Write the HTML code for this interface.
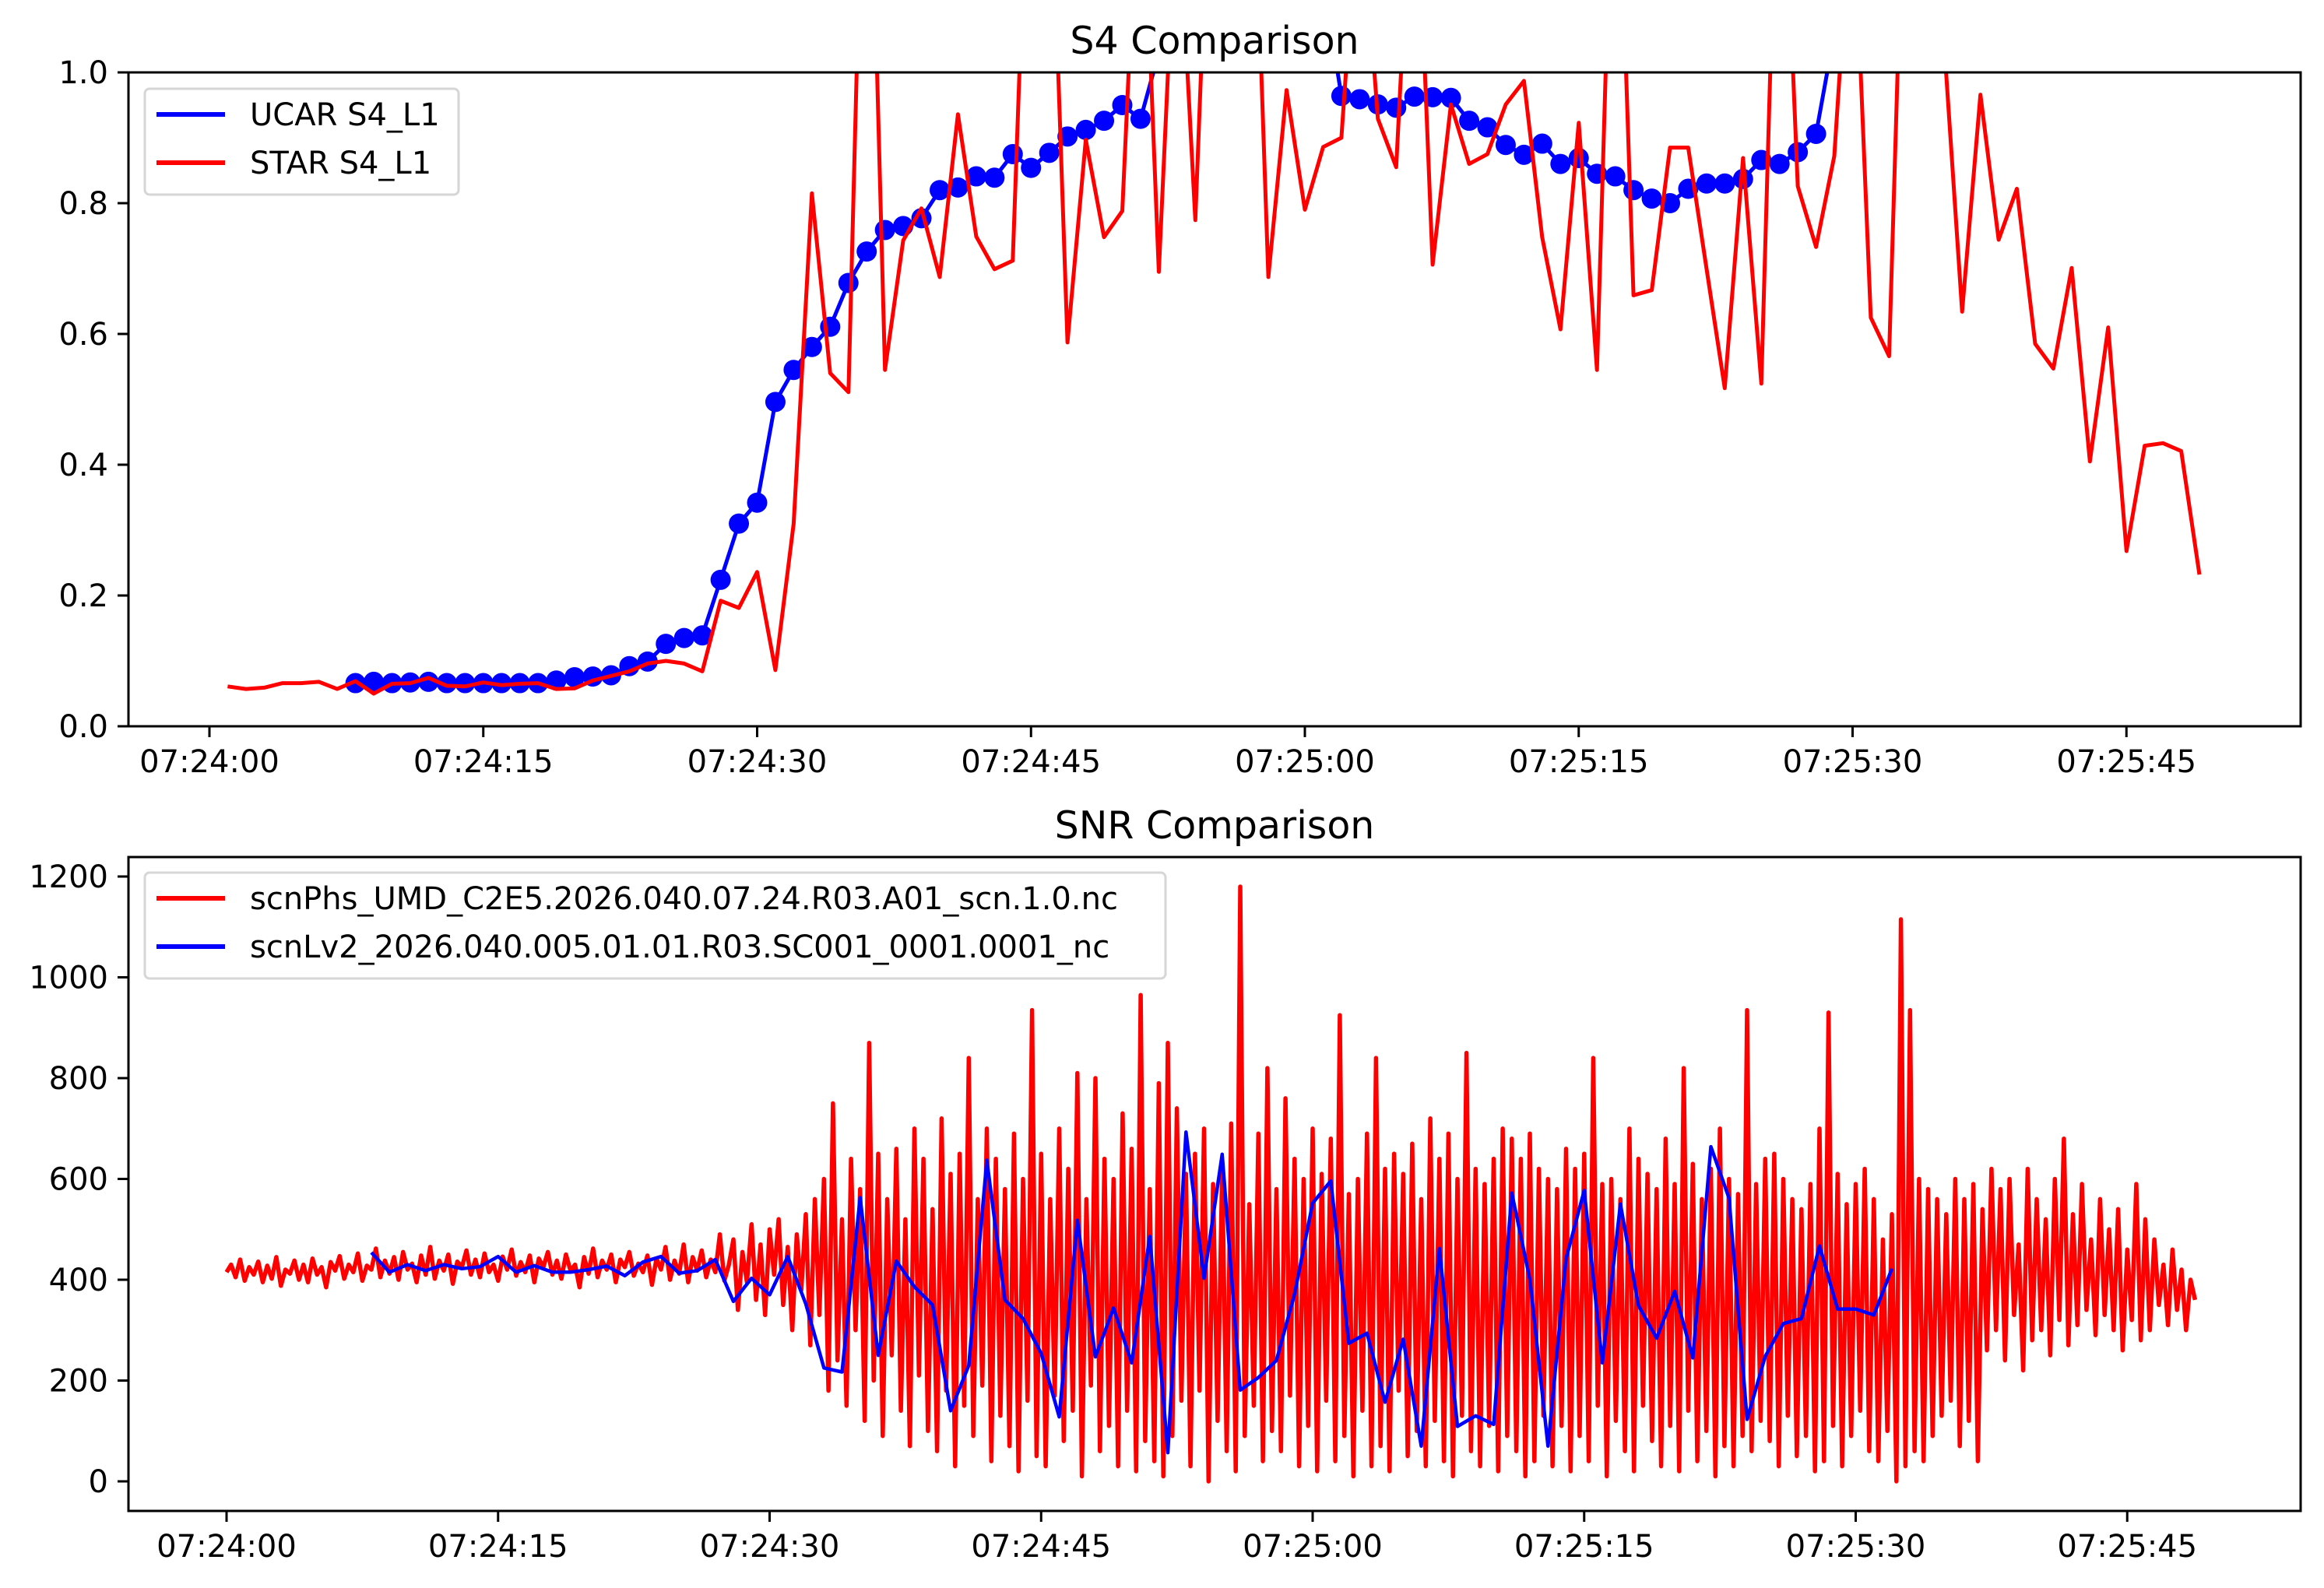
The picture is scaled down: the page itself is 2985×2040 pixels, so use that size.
<!DOCTYPE html>
<html><head><meta charset="utf-8"><style>
html,body{margin:0;padding:0;background:#fff;}
svg{display:block;font-family:"DejaVu Sans","Liberation Sans",sans-serif;}
</style></head>
<body>
<svg id="fig" width="2985" height="2040" viewBox="0 0 2985 2040" xmlns="http://www.w3.org/2000/svg">
<rect width="2985" height="2040" fill="#fff"/>
<defs>
<clipPath id="clipTop"><rect x="165" y="93" width="2790" height="840"/></clipPath>
<clipPath id="clipBot"><rect x="165" y="1101" width="2790" height="840"/></clipPath>
</defs>
<g id="top"></g>
<g id="bot"></g>
</svg>
<script>
// ---- S4 chart data ----
const s4XTickLabels = ["07:24:00","07:24:15","07:24:30","07:24:45","07:25:00","07:25:15","07:25:30","07:25:45"];
const s4XTickSeconds = [0,15,30,45,60,75,90,105];
const s4YTicks = [0.0,0.2,0.4,0.6,0.8,1.0];
const s4YTickLabels = ["0.0","0.2","0.4","0.6","0.8","1.0"];
const ucarStart = 8;
const ucarS4 = [0.066,0.068,0.066,0.067,0.068,0.066,0.066,0.066,0.066,0.066,0.066,0.07,0.075,0.076,0.078,0.092,0.099,0.126,0.135,0.139,0.224,0.31,0.342,0.496,0.545,0.58,0.611,0.678,0.726,0.759,0.765,0.777,0.82,0.824,0.841,0.839,0.875,0.854,0.877,0.902,0.912,0.926,0.95,0.929,
1.03,1.1,1.15,1.2,1.2,1.18,1.2,1.2,1.18,1.14,
0.964,0.959,0.951,0.946,0.963,0.962,0.961,0.926,0.916,0.889,0.874,0.891,0.86,0.869,0.845,0.841,0.82,0.807,0.8,0.822,0.83,0.83,0.837,0.866,0.86,0.878,0.906,
1.06,1.15,1.2,1.2];
const starStart = 1;
const starS4 = [0.061,0.057,0.059,0.066,0.066,0.068,0.057,0.069,0.05,0.065,0.066,0.074,0.062,0.061,0.067,0.063,0.065,0.066,0.057,0.058,0.07,0.077,0.084,0.096,0.1,0.096,0.084,0.192,0.181,0.236,0.086,0.31,0.815,0.54,0.511,1.6,0.545,0.743,0.792,0.687,0.936,0.749,0.699,0.712,1.5,1.4,0.587,0.897,0.748,0.788,1.4,0.695,1.3,0.774,1.5,1.6,1.5,0.687,0.973,0.79,0.886,0.9,1.3,0.929,0.855,1.4,0.706,0.951,0.86,0.875,0.951,0.987,0.748,0.607,0.923,0.545,1.5,0.659,0.667,0.885,0.885,0.70,0.517,0.869,0.524,1.5,0.826,0.733,0.872,1.3,0.625,0.566,1.5,1.5,1.05,0.634,0.966,0.744,0.822,0.585,0.547,0.701,0.405,0.61,0.268,0.429,0.433,0.421,0.232];

// ---- SNR chart data ----
const snrXTickLabels = ["07:24:00","07:24:15","07:24:30","07:24:45","07:25:00","07:25:15","07:25:30","07:25:45"];
const snrXTickSeconds = [0,15,30,45,60,75,90,105];
const snrYTicks = [0,200,400,600,800,1000,1200];
const snrStart = 0;
const snrStep = 0.25;
const scnPhsSNR = [
415,430,405,440,398,425,410,436,395,428,402,445,388,420,412,438,
400,430,395,442,410,425,385,435,418,447,402,430,415,452,398,428,
420,462,405,438,412,445,400,455,420,432,395,448,410,465,402,438,
418,450,392,436,425,458,410,440,405,452,415,430,398,446,420,460,
408,435,415,448,395,442,425,455,410,438,402,450,418,430,385,445,
412,462,405,438,420,450,395,440,425,455,408,432,415,448,390,442,
420,465,400,438,412,470,395,445,418,458,405,440,415,490,398,430,
480,340,455,395,510,360,470,330,500,410,520,350,465,300,490,380,530,270,560,330,
600,180,750,240,520,150,640,300,580,120,870,200,650,90,560,250,
660,140,520,70,700,210,640,100,540,60,720,180,610,30,650,150,
840,90,560,190,700,40,640,130,580,70,690,20,600,160,935,50,
650,30,560,170,700,80,620,140,810,10,560,190,800,60,640,110,
600,30,730,140,660,20,965,80,580,40,790,10,870,90,740,160,
610,30,650,180,700,0,590,120,620,60,710,20,1180,90,550,150,
690,40,820,100,580,60,760,170,640,30,600,110,700,20,610,160,
680,40,925,90,570,10,600,140,690,30,840,70,620,20,650,180,
610,50,670,100,560,30,720,120,640,40,690,10,600,130,850,60,
620,30,590,110,640,20,700,90,680,60,640,10,690,40,620,130,
600,30,580,110,660,20,620,90,650,40,840,150,590,10,600,120,
560,60,700,20,640,150,610,80,580,30,680,110,590,20,820,140,
630,40,560,100,620,10,700,70,600,30,570,90,935,60,590,120,
640,80,650,30,600,130,560,50,540,90,590,20,700,40,930,110,
610,30,550,90,590,140,620,60,560,40,480,100,530,0,1115,30,
935,60,600,40,580,90,560,130,530,160,600,70,560,120,590,40,
540,260,620,300,580,240,600,330,470,220,620,280,560,300,520,250,
600,320,680,270,530,310,590,340,480,290,560,330,500,300,540,260,
460,320,590,280,520,300,480,350,430,310,460,340,420,300,400,360];
const lv2Start = 8;
const scnLv2SNR = [454,415,430,418,430,422,426,446,415,428,415,415,420,427,408,435,446,413,418,440,357,403,370,446,352,225,217,563,250,437,386,350,140,230,637,360,323,254,128,518,247,344,235,486,57,693,403,649,181,206,240,372,552,596,274,294,157,282,70,462,109,130,113,572,401,70,442,577,235,550,349,284,377,245,664,562,123,248,313,323,467,342,342,330,422];

const NS = "http://www.w3.org/2000/svg";
function mk(parent, tag, attrs){ const e=document.createElementNS(NS,tag); for(const k in attrs) e.setAttribute(k,attrs[k]); parent.appendChild(e); return e; }

const L=165, R=2955, W=R-L;

function drawAxes(g, top, bottom, xFn, yFn, xSecs, xLabels, yVals, yLabels, title, prefix){
  const t = mk(g,'text',{x:(L+R)/2,y:top-24,'text-anchor':'middle','font-size':49,fill:'#000'});
  t.textContent = title;
  
  
  xSecs.forEach((s,i)=>{
    const x = xFn(s);
    const tk = mk(g,'line',{x1:x,y1:bottom,x2:x,y2:bottom+14,stroke:'#000','stroke-width':3});
    
    
    const lb = mk(g,'text',{x:x,y:bottom+59,'text-anchor':'middle','font-size':40,fill:'#000'});
    lb.textContent = xLabels[i];
    
    
  });
  yVals.forEach((v,i)=>{
    const y = yFn(v);
    const tk = mk(g,'line',{x1:L-14,y1:y,x2:L,y2:y,stroke:'#000','stroke-width':3});
    
    
    const lb = mk(g,'text',{x:L-26,y:y+14,'text-anchor':'end','font-size':40,fill:'#000'});
    lb.textContent = yLabels[i];
    
    
  });
}
function frame(g, top, bottom, prefix){
  const f = mk(g,'rect',{x:L,y:top,width:W,height:bottom-top,fill:'none',stroke:'#000','stroke-width':3});
  
  
}
function legend(g, x0,y0,w,h, entries, prefix){
  const b = mk(g,'rect',{x:x0,y:y0,width:w,height:h,rx:6,fill:'#fff','fill-opacity':0.8,stroke:'#d6d6d6','stroke-width':3});
  
  
  entries.forEach((en,i)=>{
    const yy = y0+33+i*62;
    const ln = mk(g,'line',{x1:x0+15,y1:yy,x2:x0+103,y2:yy,stroke:en.c,'stroke-width':6});
    
    
    const tx = mk(g,'text',{x:x0+135,y:yy+14,'font-size':40,fill:'#000'});
    tx.textContent = en.t;
    
    
  });
}

// ---- Top chart ----
(function(){
  const g = document.getElementById('top');
  const top=93, bottom=933;
  const x = s => 269 + s*23.45;
  const y = v => bottom - v*(bottom-top);
  drawAxes(g, top, bottom, x, y, s4XTickSeconds, s4XTickLabels, s4YTicks, s4YTickLabels, "S4 Comparison", "s4");
  const cg = mk(g,'g',{'clip-path':'url(#clipTop)'});
  const ub = ucarS4.map((v,i)=>x(ucarStart+i).toFixed(1)+','+y(v).toFixed(1)).join(' ');
  const ul = mk(cg,'polyline',{points:ub,fill:'none',stroke:'#0000ff','stroke-width':5,'stroke-linejoin':'round'});
  
  
  ucarS4.forEach((v,i)=>{
    const c = mk(cg,'circle',{cx:x(ucarStart+i),cy:y(v),r:13,fill:'#0000ff'});
    
    
  });
  const sp = starS4.map((v,i)=>x(starStart+i).toFixed(1)+','+y(v).toFixed(1)).join(' ');
  const sl = mk(cg,'polyline',{points:sp,fill:'none',stroke:'#ff0000','stroke-width':5,'stroke-linejoin':'round'});
  
  
  frame(g, top, bottom, "s4");
  legend(g, 186,114,403,136, [{c:'#0000ff',t:'UCAR S4_L1'},{c:'#ff0000',t:'STAR S4_L1'}], "s4");
})();

// ---- Bottom chart ----
(function(){
  const g = document.getElementById('bot');
  const top=1101, bottom=1941;
  const x = s => 291 + s*23.25;
  const y = v => 1903 - v*0.6475;
  drawAxes(g, top, bottom, x, y, snrXTickSeconds, snrXTickLabels, snrYTicks, snrYTicks.map(String), "SNR Comparison", "snr");
  const cg = mk(g,'g',{'clip-path':'url(#clipBot)'});
  const rp = scnPhsSNR.map((v,i)=>x(snrStart+i*snrStep).toFixed(1)+','+y(v).toFixed(1)).join(' ');
  const rl = mk(cg,'polyline',{points:rp,fill:'none',stroke:'#ff0000','stroke-width':5.5,'stroke-linejoin':'round'});
  
  
  const bp = scnLv2SNR.map((v,i)=>x(lv2Start+i).toFixed(1)+','+y(v).toFixed(1)).join(' ');
  const bl = mk(cg,'polyline',{points:bp,fill:'none',stroke:'#0000ff','stroke-width':4.5,'stroke-linejoin':'round'});
  
  
  frame(g, top, bottom, "snr");
  legend(g, 186,1121,1311,136, [{c:'#ff0000',t:'scnPhs_UMD_C2E5.2026.040.07.24.R03.A01_scn.1.0.nc'},{c:'#0000ff',t:'scnLv2_2026.040.005.01.01.R03.SC001_0001.0001_nc'}], "snr");
})();
</script>
</body></html>
